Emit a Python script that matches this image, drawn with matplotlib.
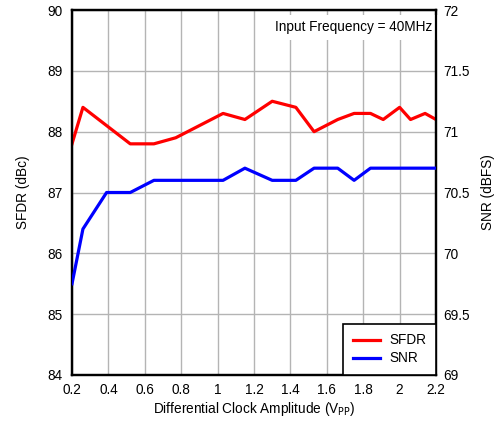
import matplotlib
matplotlib.use("Agg")
import matplotlib.pyplot as plt

plt.rcParams['font.family'] = ['Liberation Sans', 'DejaVu Sans']

clock_vpp = [0.2, 0.26, 0.39, 0.52, 0.65, 0.77, 0.9, 1.03, 1.15, 1.3, 1.43, 1.53,
             1.66, 1.75, 1.84, 1.91, 2.0, 2.06, 2.14, 2.2]
sfdr_dbc = [87.8, 88.4, 88.1, 87.8, 87.8, 87.9, 88.1, 88.3, 88.2, 88.5, 88.4, 88.0,
            88.2, 88.3, 88.3, 88.2, 88.4, 88.2, 88.3, 88.2]
snr_dbfs = [69.75, 70.2, 70.5, 70.5, 70.6, 70.6, 70.6, 70.6, 70.7, 70.6, 70.6, 70.7,
            70.7, 70.6, 70.7, 70.7, 70.7, 70.7, 70.7, 70.7]

x_ticks = [0.2, 0.4, 0.6, 0.8, 1.0, 1.2, 1.4, 1.6, 1.8, 2.0, 2.2]
left_ticks = [84, 85, 86, 87, 88, 89, 90]
right_ticks = [69, 69.5, 70, 70.5, 71, 71.5, 72]

FS = 9.8

fig = plt.figure(figsize=(4.98, 4.21), dpi=100)
ax = fig.add_axes([0.1446, 0.1093, 0.7309, 0.8669])
ax2 = ax.twinx()

ax.set_xlim(0.2, 2.2)
ax.set_ylim(84, 90)
ax2.set_ylim(69, 72)
ax.set_xticks(x_ticks)
ax.set_xticklabels([f"{v:g}" for v in x_ticks])
ax.set_yticks(left_ticks)
ax2.set_yticks(right_ticks)
ax2.set_yticklabels([f"{v:g}" for v in right_ticks])

ax.grid(True, color='#b4b4b4', linewidth=1.0)
ax.set_axisbelow(True)
for a in (ax, ax2):
    a.tick_params(length=0, labelsize=FS)
    for s in a.spines.values():
        s.set_linewidth(1.6)
        s.set_color('black')
ax.tick_params(axis='x', pad=6)
ax.tick_params(axis='y', pad=7)
ax2.tick_params(axis='y', pad=5)

l1, = ax.plot(clock_vpp, sfdr_dbc, color='#ff0000', lw=2.3, label='SFDR', zorder=3)
l2, = ax2.plot(clock_vpp, snr_dbfs, color='#0000ff', lw=2.3, label='SNR', zorder=3)

ax.set_xlabel('Differential Clock Amplitude (V$_{\\mathrm{PP}}$)', fontsize=FS, labelpad=2)
ax.set_ylabel('SFDR (dBc)', fontsize=FS, labelpad=12)
ax2.set_ylabel('SNR (dBFS)', fontsize=FS, labelpad=8)

ax.text(2.18, 89.83, 'Input Frequency = 40MHz', fontsize=FS, ha='right', va='top',
        bbox=dict(facecolor='white', edgecolor='none', pad=4), zorder=4)

leg = ax2.legend([l1, l2], ['SFDR', 'SNR'], loc='lower right', fontsize=FS,
                 fancybox=False, framealpha=1, edgecolor='black', borderaxespad=0,
                 handlelength=2.0, borderpad=0.7, labelspacing=0.3, handletextpad=0.7)
leg.get_frame().set_linewidth(1.2)

fig.savefig('out.png', dpi=100)
